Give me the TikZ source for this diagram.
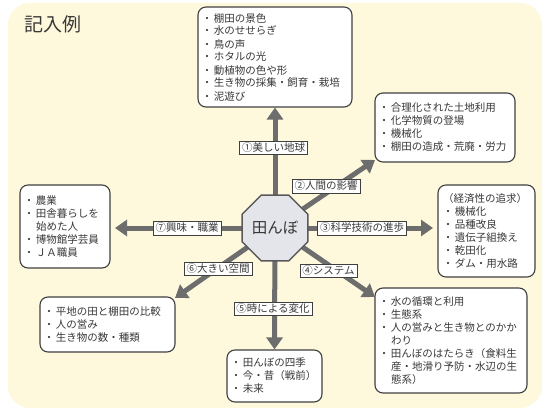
\documentclass[tikz,border=0pt]{standalone}
\usepackage{fontspec}
\setmainfont{Noto Sans CJK JP}
\usetikzlibrary{shapes.geometric,arrows.meta}
\definecolor{bgy}{HTML}{FEF9DC}
\definecolor{arr}{HTML}{6D6D6D}
\definecolor{bord}{HTML}{404040}
\definecolor{txt}{HTML}{383838}
\definecolor{octf}{HTML}{E4E5EA}
\definecolor{octb}{HTML}{5A5A5A}
\newcommand\bul{\makebox[8pt][l]{\hspace{-4.25pt}・}}
\newcommand\ind{\hspace*{8pt}}
\begin{document}
\begin{tikzpicture}[x=1pt,y=-1pt,
  infobox/.style={draw=bord, line width=1.1pt, rounded corners=8pt, fill=white,
    align=left, font=\fontsize{10.5}{13}\selectfont, text=txt,
    inner xsep=8pt, inner ysep=0pt},
  lab/.style={draw=bord, fill=white, line width=0.8pt,
    font=\fontsize{10.5}{12}\selectfont, text=txt,
    inner xsep=2.5pt, inner ysep=1.5pt, text height=8.5pt, text depth=2pt},
  arw/.style={draw=arr, line width=5pt, -{Triangle[length=12pt,width=16pt]}}]
\useasboundingbox (0,0) rectangle (549,412);
\fill[white] (0,0) rectangle (549,412);
\fill[bgy, rounded corners=22pt] (8,3) rectangle (542,408);

% boxes
\node[infobox, minimum width=154pt, minimum height=100pt, text width=138pt] (b1) at (275,57)
  {\bul 棚田の景色\\ \bul 水のせせらぎ\\ \bul 鳥の声\\ \bul ホタルの光\\ \bul 動植物の色や形\\ \bul 生き物の採集・飼育・栽培\\ \bul 泥遊び};
\node[infobox, minimum width=140pt, minimum height=69pt, text width=124pt] (b2) at (445,127.5)
  {\bul 合理化された土地利用\\ \bul 化学物質の登場\\ \bul 機械化\\ \bul 棚田の造成・荒廃・労力};
\node[infobox, inner xsep=9pt, minimum width=97pt, minimum height=92pt, text width=79pt] (b3) at (486.5,231)
  {\hspace*{-4pt}（経済性の追求）\\ \bul 機械化\\ \bul 品種改良\\ \bul 遺伝子組換え\\ \bul 乾田化\\ \bul ダム・用水路};
\node[infobox, minimum width=152pt, minimum height=105pt, text width=136pt] (b4) at (451,340.5)
  {\bul 水の循環と利用\\ \bul 生態系\\ \bul 人の営みと生き物とのかか\\ \ind わり\\ \bul 田んぼのはたらき（食料生\\ \ind 産・地滑り予防・水辺の生\\ \ind 態系）};
\node[infobox, minimum width=95pt, minimum height=52pt, text width=79pt] (b5) at (274.5,376)
  {\bul 田んぼの四季\\ \bul 今・昔（戦前）\\ \bul 未来};
\node[infobox, minimum width=135pt, minimum height=55pt, text width=119pt] (b6) at (107.5,324.5)
  {\bul 平地の田と棚田の比較\\ \bul 人の営み\\ \bul 生き物の数・種類};
\node[infobox, minimum width=90pt, minimum height=83pt, text width=74pt] (b7) at (65,226.5)
  {\bul 農業\\ \bul 田舎暮らしを\\ \ind 始めた人\\ \bul 博物館学芸員\\ \bul ＪＡ職員};

% arrow tips
\coordinate (c) at (275,228);
\coordinate (t2) at (375,160);
\coordinate (t3) at (433,228);
\coordinate (t4) at (375,297);
\coordinate (t6) at (175,298);
\coordinate (t7) at (115,228);

\draw[arw] (c) -- (b1.south);
\draw[arw] (c) -- (t2);
\draw[arw] (c) -- (t3);
\draw[arw] (c) -- (t4);
\draw[arw] (c) -- (b5.north);
\draw[arw] (c) -- (t6);
\draw[arw] (c) -- (t7);

\node[regular polygon, regular polygon sides=8, minimum size=71.4pt, inner sep=0pt,
  draw=octb, fill=octf, line width=1.5pt, text=txt,
  font=\fontsize{15.5}{16}\selectfont] (oct) at (c) {田んぼ};

% labels
\node[lab] (l1) at (273.5,148) {①美しい地球};
\node[lab] (l2) at (326,186.5) {②人間の影響};
\node[lab] (l3) at (362,228.5) {③科学技術の進歩};
\node[lab] (l4) at (328.5,271) {④システム};
\node[lab] (l5) at (273,309) {⑤時による変化};
\node[lab] (l6) at (218,269) {⑥大きい空間};
\node[lab] (l7) at (187,228.5) {⑦興味・職業};

\node[anchor=west, font=\fontsize{19}{20}\selectfont, text=txt, inner sep=0pt] (title) at (24,24) {記入例};
\end{tikzpicture}
\end{document}
